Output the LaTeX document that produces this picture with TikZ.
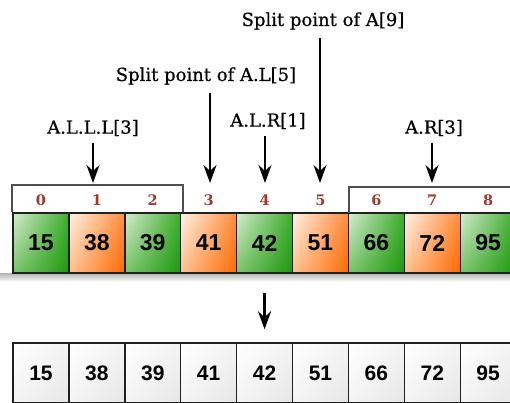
\documentclass[tikz,border=0pt]{standalone}
\usepackage{fontspec}
\setmainfont{DejaVu Serif}
\newfontfamily\lblfont[FakeBold=0.6]{DejaVu Serif}
\newfontfamily\numfont{Liberation Sans}
\usetikzlibrary{arrows.meta,shadings}
\definecolor{idxred}{HTML}{A8342C}
\definecolor{brk}{HTML}{505050}
\definecolor{edge}{HTML}{202020}
\definecolor{gUL}{HTML}{D6EDD0}
\definecolor{gUR}{HTML}{3DAE2C}
\definecolor{gLL}{HTML}{7CC46C}
\definecolor{gLR}{HTML}{1E980F}
\definecolor{oUL}{HTML}{FFF2E6}
\definecolor{oUR}{HTML}{FF8E3C}
\definecolor{oLL}{HTML}{FFC08E}
\definecolor{oLR}{HTML}{FF6800}
\definecolor{wLR}{HTML}{E6E6E6}
\definecolor{wUR}{HTML}{F4F4F4}
\tikzset{
  cellbase/.style={rectangle, minimum width=55.9pt, minimum height=60pt, inner sep=0pt,
    draw=edge, line width=1.4pt, font=\numfont\bfseries\fontsize{23}{24}\selectfont},
  gcell/.style={cellbase, upper left=gUL, upper right=gUR, lower left=gLL, lower right=gLR},
  ocell/.style={cellbase, upper left=oUL, upper right=oUR, lower left=oLL, lower right=oLR},
  wcell/.style={rectangle, minimum width=55.9pt, minimum height=60pt, inner sep=0pt,
    draw=edge, line width=1.4pt, font=\numfont\bfseries\fontsize{21}{24}\selectfont,
    upper left=white, upper right=wUR, lower left=wUR, lower right=wLR},
  idx/.style={text=idxred, font=\bfseries\fontsize{14.5}{16}\selectfont, inner sep=0pt},
  lbl/.style={font=\lblfont\fontsize{18}{20}\selectfont, inner sep=0pt},
  arr/.style={line width=2.8pt, -{Stealth[length=18pt, width=13pt, inset=6pt]}},
  bracket/.style={draw=brk, line width=2pt},
}
\begin{document}
\begin{tikzpicture}[x=1pt,y=-1pt]
\useasboundingbox (0,0) rectangle (510,402);
% shadow under top row
\shade[top color=black!30, bottom color=white] (0,273) rectangle (514,282);
% top row cells
\foreach \i/\v/\s in {0/15/gcell,1/38/ocell,2/39/gcell,3/41/ocell,4/42/gcell,5/51/ocell,6/66/gcell,7/72/ocell,8/95/gcell}{
  \pgfmathsetmacro{\cx}{13+55.9*(\i+0.5)}
  \node[\s] (c\i) at (\cx,243) {\v};
  \node[idx] (i\i) at (\cx,200) {\i};
}
% bottom row cells
\foreach \i/\v in {0/15,1/38,2/39,3/41,4/42,5/51,6/66,7/72,8/95}{
  \pgfmathsetmacro{\cx}{13+55.9*(\i+0.5)}
  \node[wcell] (b\i) at (\cx,373) {\v};
}
% brackets
\draw[bracket] (12,212) |- (183,185) -- (183,212);
\draw[bracket] (349,213) |- (516,187);
% labels
\node[lbl] (l9) at (323,21) {Split point of A[9]};
\node[lbl] (l5) at (206,76) {Split point of A.L[5]};
\node[lbl] (lL) at (93,128) {A.L.L.L[3]};
\node[lbl] (lR) at (268,121) {A.L.R[1]};
\node[lbl] (lA) at (434,128) {A.R[3]};
% arrow tips
\coordinate (t9) at (320,183);
\coordinate (t5) at (210,183);
\coordinate (tL) at (93,183);
\coordinate (tR) at (265,183);
\coordinate (tA) at (432,183);
\draw[arr, shorten <=8pt] (l9.south -| t9) -- (t9);
\draw[arr, shorten <=8pt] (l5.south -| t5) -- (t5);
\draw[arr, shorten <=7pt] (lL.south -| tL) -- (tL);
\draw[arr, shorten <=7pt] (lR.south -| tR) -- (tR);
\draw[arr, shorten <=7pt] (lA.south -| tA) -- (tA);
% arrow between rows
\draw[arr, shorten <=19pt, shorten >=13pt] (c4.south) -- (b4.north);
\end{tikzpicture}
\end{document}
